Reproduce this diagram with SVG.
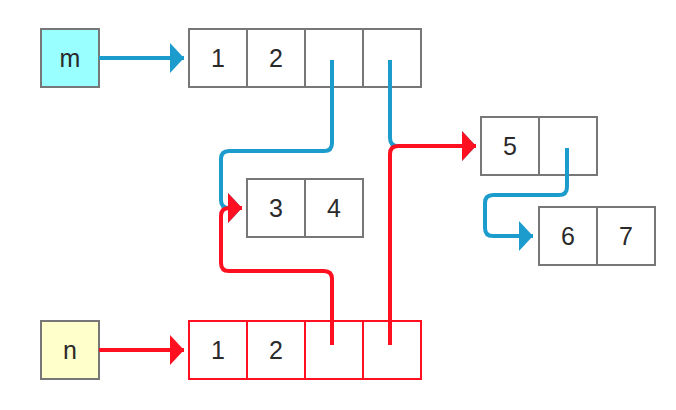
<svg xmlns="http://www.w3.org/2000/svg" width="676" height="410" viewBox="0 0 676 410">
<style>
.box{stroke:#777;stroke-width:2;fill:#fff}
.rbox{stroke:#ff1020;stroke-width:2;fill:#fff}
.t{font-family:"Liberation Sans",Arial,sans-serif;font-size:25px;fill:#2a2a2a;text-anchor:middle}
.b{fill:none;stroke:#1c9ccd;stroke-width:4}
.r{fill:none;stroke:#ff1020;stroke-width:4}
</style>
<defs>
<marker id="ab" markerUnits="userSpaceOnUse" markerWidth="14" markerHeight="30" refX="14" refY="15" orient="auto"><path d="M0,0 L14,15 L0,30 Z" fill="#1c9ccd"/></marker>
<marker id="ar" markerUnits="userSpaceOnUse" markerWidth="14" markerHeight="30" refX="14" refY="15" orient="auto"><path d="M0,0 L14,15 L0,30 Z" fill="#ff1020"/></marker>
</defs>
<rect width="676" height="410" fill="#fff"/>
<g id="m"><rect class="box" x="41" y="29" width="58" height="58" style="fill:#99ffff"/><text class="t" x="70" y="67">m</text></g>
<g id="n"><rect class="box" x="41" y="321" width="58" height="58" style="fill:#ffffcc"/><text class="t" x="70" y="359">n</text></g>
<g id="arrM">
<rect class="box" x="189" y="29" width="58" height="58"/><rect class="box" x="247" y="29" width="58" height="58"/><rect class="box" x="305" y="29" width="58" height="58"/><rect class="box" x="363" y="29" width="58" height="58"/>
<text class="t" x="218" y="67">1</text><text class="t" x="276" y="67">2</text>
</g>
<g id="arrN">
<rect class="rbox" x="189" y="321" width="58" height="58"/><rect class="rbox" x="247" y="321" width="58" height="58"/><rect class="rbox" x="305" y="321" width="58" height="58"/><rect class="rbox" x="363" y="321" width="58" height="58"/>
<text class="t" x="218" y="359">1</text><text class="t" x="276" y="359">2</text>
</g>
<g id="a34">
<rect class="box" x="247" y="179" width="58" height="58"/><rect class="box" x="305" y="179" width="58" height="58"/>
<text class="t" x="276" y="217">3</text><text class="t" x="334" y="217">4</text>
</g>
<g id="a5">
<rect class="box" x="481" y="117" width="58" height="58"/><rect class="box" x="539" y="117" width="58" height="58"/>
<text class="t" x="510" y="155">5</text>
</g>
<g id="a67">
<rect class="box" x="539" y="207" width="58" height="58"/><rect class="box" x="597" y="207" width="58" height="58"/>
<text class="t" x="568" y="245">6</text><text class="t" x="626" y="245">7</text>
</g>
<g id="connectors">
<path class="b" d="M99,58 H184" marker-end="url(#ab)"/>
<path class="b" d="M332,60 V143 Q332,151 324,151 H229 Q221,151 221,159 V200 Q221,208 229,208 H242" marker-end="url(#ab)"/>
<path class="b" d="M390,60 V138 Q390,146 398,146 H476" marker-end="url(#ab)"/>
<path class="b" d="M567,148 V187 Q567,195 559,195 H493 Q485,195 485,203 V228 Q485,236 493,236 H533" marker-end="url(#ab)"/>
<path class="r" d="M99,350 H184" marker-end="url(#ar)"/>
<path class="r" d="M332,345 V279 Q332,271 324,271 H229 Q221,271 221,263 V216 Q221,208 229,208 H242" marker-end="url(#ar)"/>
<path class="r" d="M390,345 V154 Q390,146 398,146 H476" marker-end="url(#ar)"/>
</g>
</svg>
